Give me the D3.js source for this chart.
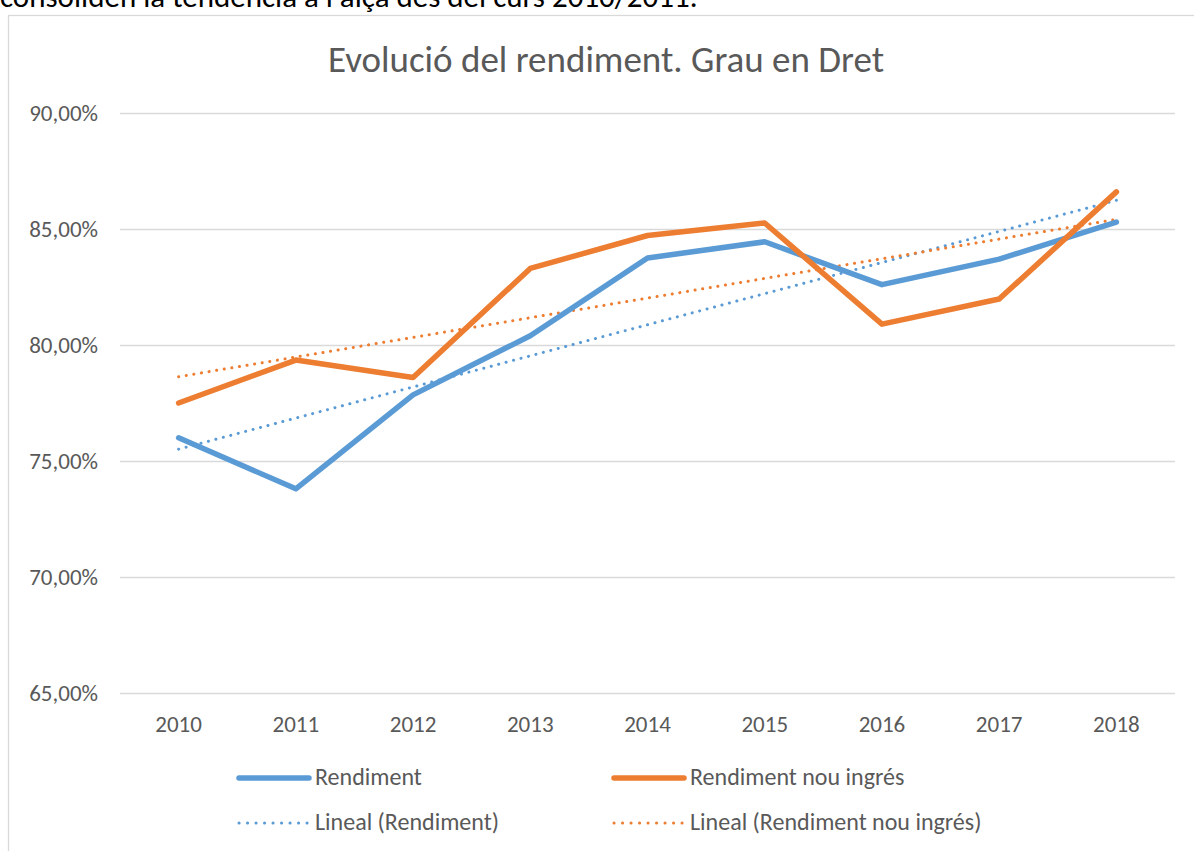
<!DOCTYPE html>
<html lang="ca">
<head>
<meta charset="utf-8">
<title>Evolució del rendiment. Grau en Dret</title>
<script src="https://cdn.jsdelivr.net/npm/d3@7"></script>
<style>
	html, body { margin: 0; padding: 0; background: #fff; }
	svg { display: block; font-family: Carlito, Calibri, Lato, "Open Sans", sans-serif; }
	.grid line { stroke: #d9d9d9; stroke-width: 1.3; }
	.tick-label { fill: #595959; font-size: 23px; }
	.legend-label { fill: #595959; font-size: 24px; }
</style>
</head>
<body>
<div class="chart"></div>
<script>
// ── Data ────────────────────────────────────────────────────────────────

const years = ['2010', '2011', '2012', '2013', '2014', '2015', '2016', '2017', '2018'];
const rendiment = [76.0, 73.8, 77.85, 80.4, 83.75, 84.45, 82.6, 83.7, 85.3];
const rendimentNouIngres = [77.5, 79.35, 78.6, 83.3, 84.72, 85.26, 80.9, 81.98, 86.6];
const yTicks = [65, 70, 75, 80, 85, 90];

const seriesNames = ['Rendiment', 'Rendiment nou ingrés'];
const trendNames = ['Lineal (Rendiment)', 'Lineal (Rendiment nou ingrés)'];

// ── Constants ───────────────────────────────────────────────────────────

const WIDTH = 1194;
const HEIGHT = 851;
const PLOT = {left: 120, right: 1175, top: 113, bottom: 693};
const COLORS = ['#5b9bd5', '#ed7d31'];

// ── Helpers ─────────────────────────────────────────────────────────────

/**
 * Least squares line through the series (same as Excel's linear trendline),
 * evaluated at every category index.
 */
function linearTrend(values)
{
	const n = values.length;
	const xMean = (n - 1) / 2;
	const yMean = d3.mean(values);
	let sxy = 0;
	let sxx = 0;
	values.forEach((v, i) =>
	{
		sxy += (i - xMean) * (v - yMean);
		sxx += (i - xMean) * (i - xMean);
	});
	const slope = sxy / sxx;
	return values.map((v, i) => yMean + slope * (i - xMean));
}

const fmtPct = (v) => d3.format('.2f')(v).replace('.', ',') + '%';

// strip the default axis styling so the CSS classes apply
function restyleAxis(group)
{
	group.attr('font-family', null).attr('font-size', null);
	group.select('.domain').remove();
	group.selectAll('text')
	.attr('class', 'tick-label')
	.attr('fill', null);
	group.selectAll('line').attr('stroke', null);
}

// ── Chart ───────────────────────────────────────────────────────────────

function drawChart()
{
	const svg = d3.select('.chart')
	.append('svg')
	.attr('width', WIDTH)
	.attr('height', HEIGHT);

	// text of the surrounding document, cut off at the top
	svg.append('text')
	.attr('x', 0)
	.attr('y', 7)
	.attr('fill', '#000')
	.style('font-size', '31px')
	.text('consoliden la tendència a l\'alça des del curs 2010/2011.');

	// chart frame
	svg.append('rect')
	.attr('x', 8.5)
	.attr('y', 15.5)
	.attr('width', 1200)
	.attr('height', 900)
	.attr('fill', '#fff')
	.attr('stroke', '#d9d9d9')
	.attr('stroke-width', 1.3);

	svg.append('text')
	.attr('x', 606)
	.attr('y', 72)
	.attr('text-anchor', 'middle')
	.attr('fill', '#595959')
	.style('font-size', '37px')
	.text('Evolució del rendiment. Grau en Dret');

	const xScale = d3.scaleBand()
	.domain(years)
	.range([PLOT.left, PLOT.right]);

	const yScale = d3.scaleLinear()
	.domain([65, 90])
	.range([PLOT.bottom, PLOT.top]);

	const xPos = (i) => xScale(years[i]) + xScale.bandwidth() / 2;

	// horizontal gridlines with the value labels
	const yAxis = d3.axisLeft(yScale)
	.tickValues(yTicks)
	.tickSize(PLOT.left - PLOT.right)
	.tickFormat(fmtPct)
	.tickPadding(22);

	svg.append('g')
	.attr('class', 'grid')
	.attr('transform', `translate(${PLOT.left}, 0)`)
	.call(yAxis)
	.call(restyleAxis);

	const xAxis = d3.axisBottom(xScale).tickSize(0).tickPadding(23);
	svg.append('g')
	.attr('transform', `translate(0, ${PLOT.bottom})`)
	.call(xAxis)
	.call(restyleAxis);

	const line = d3.line()
	.x((d, i) => xPos(i))
	.y((d) => yScale(d));

	const series = [rendiment, rendimentNouIngres];

	// trendlines
	series.forEach((values, k) =>
	{
		svg.append('path')
		.datum(linearTrend(values))
		.attr('d', line)
		.attr('fill', 'none')
		.attr('stroke', COLORS[k])
		.attr('stroke-width', 3)
		.attr('stroke-linecap', 'round')
		.attr('stroke-dasharray', '0.1 7.6');
	});

	// actual series
	series.forEach((values, k) =>
	{
		svg.append('path')
		.datum(values)
		.attr('d', line)
		.attr('fill', 'none')
		.attr('stroke', COLORS[k])
		.attr('stroke-width', 5.5)
		.attr('stroke-linecap', 'round')
		.attr('stroke-linejoin', 'round');
	});

	// legend
	const legendX = [239, 614];
	const legendRows = [778, 823];
	seriesNames.forEach((name, k) =>
	{
		const g = svg.append('g');
		g.append('line')
		.attr('x1', legendX[k]).attr('x2', legendX[k] + 70)
		.attr('y1', legendRows[0]).attr('y2', legendRows[0])
		.attr('stroke', COLORS[k])
		.attr('stroke-width', 5.5)
		.attr('stroke-linecap', 'round');
		g.append('text')
		.attr('class', 'legend-label')
		.attr('x', legendX[k] + 76)
		.attr('y', legendRows[0] + 7)
		.text(name);

		const t = svg.append('g');
		t.append('line')
		.attr('x1', legendX[k]).attr('x2', legendX[k] + 70)
		.attr('y1', legendRows[1]).attr('y2', legendRows[1])
		.attr('stroke', COLORS[k])
		.attr('stroke-width', 3)
		.attr('stroke-linecap', 'round')
		.attr('stroke-dasharray', '0.1 8.4');
		t.append('text')
		.attr('class', 'legend-label')
		.attr('x', legendX[k] + 76)
		.attr('y', legendRows[1] + 7)
		.text(trendNames[k]);
	});
}

drawChart();
</script>
</body>
</html>
